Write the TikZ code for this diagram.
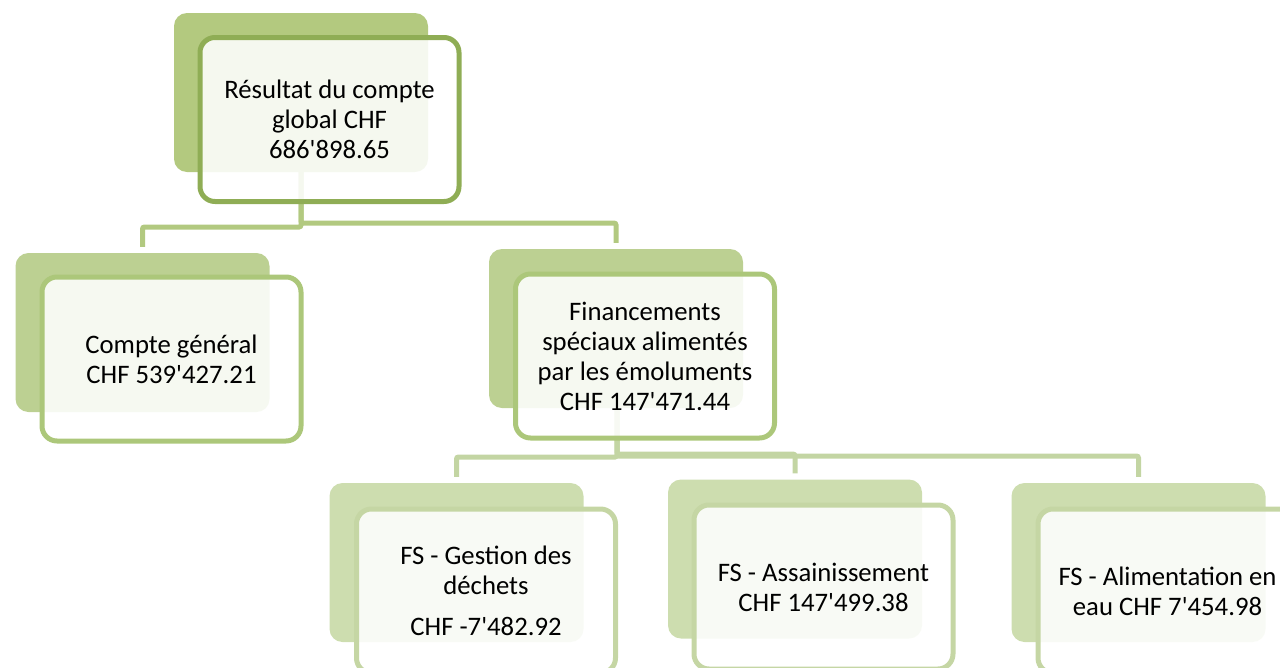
\documentclass[tikz,border=0pt]{standalone}
\usepackage{fontspec}
\setmainfont{Carlito}
\definecolor{backA}{RGB}{179,201,127}
\definecolor{lineA}{RGB}{143,173,85}
\definecolor{backB}{RGB}{188,208,146}
\definecolor{lineB}{RGB}{172,199,122}
\definecolor{backC}{RGB}{205,221,175}
\definecolor{lineC}{RGB}{197,214,164}
\definecolor{connA}{RGB}{178,201,128}
\definecolor{connB}{RGB}{195,213,163}
\newcommand{\ap}{\textquotesingle}
\begin{document}
\begin{tikzpicture}[x=1pt,y=-1pt,
  backbox/.style={rectangle, rounded corners=13pt, inner sep=0pt, minimum width=254pt, minimum height=159pt, fill=#1},
  frontbox/.style={rectangle, rounded corners=15pt, inner sep=0pt, minimum width=259pt, minimum height=164pt,
    fill=white, fill opacity=0.88, text opacity=1, draw=#1, line width=5pt, align=center,
    font=\fontsize{26.7}{30}\selectfont},
  connector/.style={draw=#1, line width=5pt, rounded corners=2pt}
]
\clip (0,0) rectangle (1280,667);
% back boxes
\node[backbox=backA] (b0) at (301,92.5) {};
\node[backbox=backB] (b1) at (142.5,332.5) {};
\node[backbox=backB] (b2) at (616,328.5) {};
\node[backbox=backC] (b3) at (456.5,562.5) {};
\node[backbox=backC] (b4) at (795,559) {};
\node[backbox=backC] (b5) at (1138.5,562.5) {};
% junction coordinates
\coordinate (c1) at (142.5,227);
\coordinate (c2) at (616,223);
\coordinate (c3) at (456.5,457);
\coordinate (c4) at (795,454);
\coordinate (c5) at (1138.5,456);
% connectors
\draw[connector=connA] (b0.south) |- (c1) -- ([yshift=6pt]b1.north);
\draw[connector=connA] (b0.south) |- (c2) -- ([yshift=6pt]b2.north);
\draw[connector=connB] ([xshift=1pt]b2.south) |- (c3) -- ([yshift=6pt]b3.north);
\draw[connector=connB] ([xshift=1pt]b2.south) |- (c4) -- ([yshift=6pt]b4.north);
\draw[connector=connB] ([xshift=1pt]b2.south) |- (c5) -- ([yshift=6pt]b5.north);
% front boxes
\node[frontbox=lineA] (f0) at (329.5,119.5) {Résultat du compte\\global CHF\\686\ap898.65};
\node[frontbox=lineB] (f1) at (171.5,359) {Compte général\\CHF 539\ap427.21};
\node[frontbox=lineB] (f2) at (645,356) {Financements\\spéciaux alimentés\\par les émoluments\\CHF 147\ap471.44};
\node[frontbox=lineC] (f3) at (486,591) {FS - Gestion des\\déchets\\[11pt]CHF -7\ap482.92};
\node[frontbox=lineC] (f4) at (823.5,587) {FS - Assainissement\\CHF 147\ap499.38};
\node[frontbox=lineC] (f5) at (1167.5,591) {FS - Alimentation en\\eau CHF 7\ap454.98};
\end{tikzpicture}
\end{document}
